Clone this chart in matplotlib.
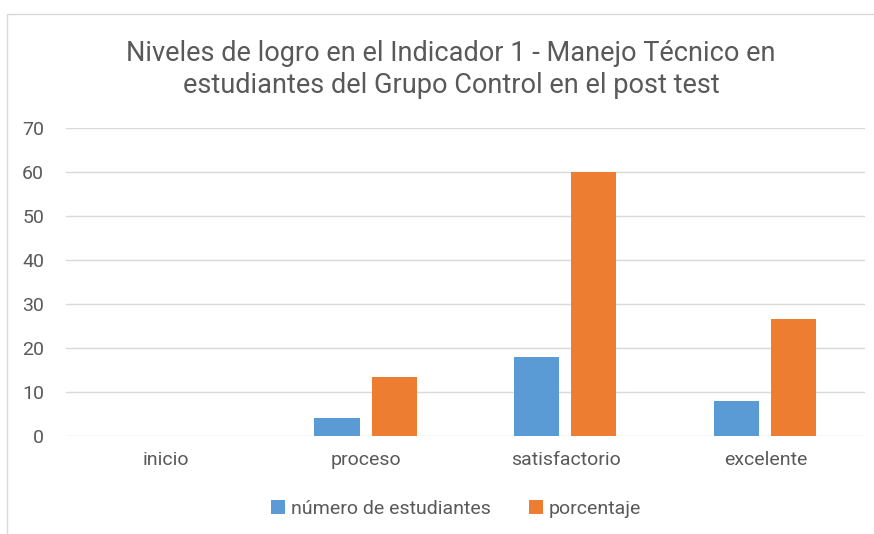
import matplotlib.pyplot as plt
import numpy as np
from matplotlib.patches import Rectangle

categorias = ['inicio', 'proceso', 'satisfactorio', 'excelente']
num_estudiantes = [0, 4, 18, 8]
porcentaje = [0, 13.33, 60, 26.67]
yticks = [0, 10, 20, 30, 40, 50, 60, 70]

plt.rcParams['font.family'] = ['Liberation Sans Narrow', 'Roboto', 'DejaVu Sans']
gris = '#595959'

fig = plt.figure(figsize=(8.74, 5.34), dpi=100)
# marco del gráfico
fig.patches.append(Rectangle((7 / 874, -0.01), 1, 1 - 14 / 534 + 0.01, transform=fig.transFigure,
                             fill=False, edgecolor='#D9D9D9', linewidth=1))

ax = fig.add_axes([0.076, 0.1835, 0.914, 0.5765])
x = np.arange(len(categorias))
w = 0.226
ax.bar(x - 0.145, num_estudiantes, w, color='#5B9BD5', label='número de estudiantes', zorder=3)
ax.bar(x + 0.141, porcentaje, w, color='#ED7D31', label='porcentaje', zorder=3)

ax.set_xlim(-0.5, 3.5)
ax.set_ylim(0, 70)
ax.set_yticks(yticks)
ax.set_xticks(x)
ax.set_xticklabels(categorias)
ax.yaxis.grid(True, color='#D9D9D9', linewidth=1, zorder=0)
for s in ax.spines.values():
    s.set_visible(False)
ax.tick_params(length=0, colors=gris, labelsize=14)
ax.tick_params(axis='x', pad=11)
ax.tick_params(axis='y', pad=16)

fig.text(0.516, 0.870, 'Niveles de logro en el Indicador 1 - Manejo Técnico en\nestudiantes del Grupo Control en el post test',
         ha='center', va='center', fontsize=19.5, color=gris, linespacing=1.25)

fig.legend(loc='center', bbox_to_anchor=(0.522, 0.047), ncol=2, frameon=False, fontsize=14,
           handlelength=0.7, handleheight=0.7, handletextpad=0.3, columnspacing=2.0, labelcolor=gris)

fig.savefig('out.png', dpi=100)
